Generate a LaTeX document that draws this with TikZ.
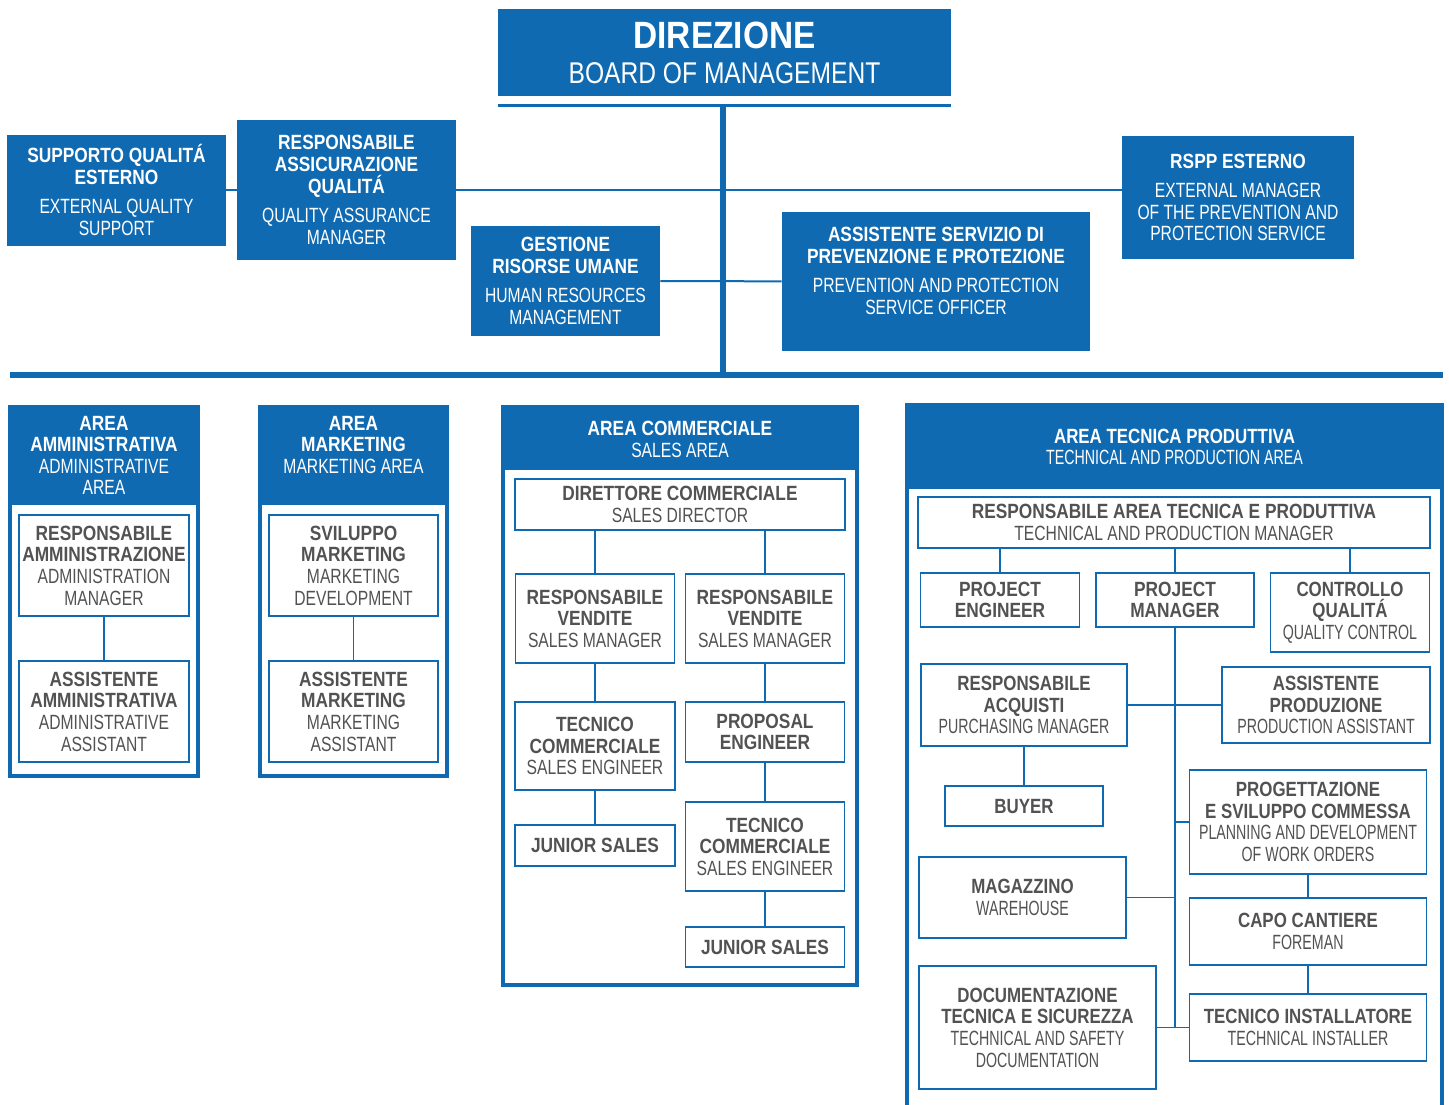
\documentclass[tikz,border=0pt]{standalone}
\usepackage{fontspec}
\setmainfont{Liberation Sans}[UprightFeatures={FakeStretch=0.76},BoldFeatures={FakeStretch=0.84}]
\newfontfamily\titlefont{Liberation Sans}[UprightFeatures={FakeStretch=0.82},BoldFeatures={FakeStretch=0.88}]
\newfontfamily\narrowfont{Liberation Sans}[UprightFeatures={FakeStretch=0.69},BoldFeatures={FakeStretch=0.82}]
\definecolor{orgblue}{RGB}{16,106,178}
\definecolor{orggray}{RGB}{82,82,82}
\tikzset{
  dims/.style 2 args={minimum width=#1*0.5pt, minimum height=#2*0.5pt},
  bluebox/.style={fill=orgblue, text=white, align=center, inner sep=1pt,
    font=\fontsize{10.3}{10.8}\selectfont},
  whitebox/.style={draw=orgblue, line width=0.75pt, fill=white, text=orggray,
    align=center, inner sep=1pt, font=\fontsize{10.3}{10.8}\selectfont},
  tecbox/.style={whitebox, font=\narrowfont\fontsize{10.3}{10.8}\selectfont},
  areaframe/.style={draw=orgblue, line width=2pt},
  trunk/.style={draw=orgblue, line width=3pt},
  link/.style={draw=orgblue, line width=1pt},
  sublink/.style={draw=orgblue, line width=0.75pt}
}

\begin{document}
\begin{tikzpicture}[x=0.5pt,y=-0.5pt]
  \useasboundingbox (0,0) rectangle (1449,1104);

  % board and staff
  \node[bluebox, dims={453}{87}, font=\titlefont\fontsize{15}{17.5}\selectfont] (dir) at (724.5,52.5)
    {{\fontsize{19}{17.5}\selectfont\bfseries DIREZIONE}\\BOARD OF MANAGEMENT};
  \coordinate (spinetop) at (723,105);
  \coordinate (spinebot) at (723,375);
  \coordinate (barleft) at (10,375);
  \coordinate (barright) at (1443,375);
  \draw[orgblue, line width=1.5pt] (dir.south west |- spinetop) -- (dir.south east |- spinetop);
  \draw[trunk] (spinetop) -- (spinebot);
  \draw[trunk] (barleft) -- (barright);

  \node[bluebox, dims={219}{111}] (supp) at (116.5,190)
    {\textbf{SUPPORTO QUALITÁ}\\\textbf{ESTERNO}\\[4pt]EXTERNAL QUALITY\\SUPPORT};
  \node[bluebox, dims={219}{140}] (rassic) at (346.5,190)
    {\textbf{RESPONSABILE}\\\textbf{ASSICURAZIONE}\\\textbf{QUALITÁ}\\[4pt]QUALITY ASSURANCE\\MANAGER};
  \node[bluebox, dims={189}{110}] (gest) at (565.5,281)
    {\textbf{GESTIONE}\\\textbf{RISORSE UMANE}\\[4pt]HUMAN RESOURCES\\MANAGEMENT};
  \node[bluebox, dims={308}{139}] (aspp) at (936,281.5)
    {\textbf{ASSISTENTE SERVIZIO DI}\\\textbf{PREVENZIONE E PROTEZIONE}\\[4pt]PREVENTION AND PROTECTION\\SERVICE OFFICER\\\mbox{}};
  \node[bluebox, dims={232}{123}] (rspp) at (1238,197.5)
    {\textbf{RSPP ESTERNO}\\[4pt]EXTERNAL MANAGER\\OF THE PREVENTION AND\\PROTECTION SERVICE};

  \draw[link] (supp) -- (rassic);
  \draw[link] (rassic.east) -- (rassic.east -| rspp.west);
  \draw[link] (gest) -- (aspp);

  % area amministrativa
  \draw[areaframe] (10,407) rectangle (198,776);
  \node[bluebox, dims={190}{99}] (ammhead) at (104,455.5)
    {\textbf{AREA}\\\textbf{AMMINISTRATIVA}\\ADMINISTRATIVE\\AREA};
  \node[whitebox, dims={170}{101}] (ramm) at (104,565.5)
    {\textbf{RESPONSABILE}\\\textbf{AMMINISTRAZIONE}\\ADMINISTRATION\\MANAGER};
  \node[whitebox, dims={170}{101}] (aamm) at (104,711.5)
    {\textbf{ASSISTENTE}\\\textbf{AMMINISTRATIVA}\\ADMINISTRATIVE\\ASSISTANT};
  \draw[sublink] (ramm) -- (aamm);

  % area marketing
  \draw[areaframe] (260,407) rectangle (447,776);
  \node[bluebox, dims={189}{99}] (mkthead) at (353.5,455.5)
    {\textbf{AREA}\\\textbf{MARKETING}\\MARKETING AREA\\\mbox{}};
  \node[whitebox, dims={169}{101}] (smkt) at (353.5,565.5)
    {\textbf{SVILUPPO}\\\textbf{MARKETING}\\MARKETING\\DEVELOPMENT};
  \node[whitebox, dims={169}{101}] (amkt) at (353.5,711.5)
    {\textbf{ASSISTENTE}\\\textbf{MARKETING}\\MARKETING\\ASSISTANT};
  \draw[sublink] (smkt) -- (amkt);

  % area commerciale
  \draw[areaframe] (503,407) rectangle (857,985);
  \node[bluebox, dims={356}{61}] (comhead) at (680,439.5)
    {\textbf{AREA COMMERCIALE}\\SALES AREA};
  \node[whitebox, dims={330}{51}] (dcom) at (680,504.5)
    {\textbf{DIRETTORE COMMERCIALE}\\SALES DIRECTOR};
  \node[whitebox, dims={159}{89}] (rv1) at (595,618.5)
    {\textbf{RESPONSABILE}\\\textbf{VENDITE}\\SALES MANAGER};
  \node[whitebox, dims={159}{89}] (rv2) at (765,618.5)
    {\textbf{RESPONSABILE}\\\textbf{VENDITE}\\SALES MANAGER};
  \node[whitebox, dims={160}{88}] (tc1) at (595,746)
    {\textbf{TECNICO}\\\textbf{COMMERCIALE}\\SALES ENGINEER};
  \node[whitebox, dims={159}{60}] (prop) at (765,732)
    {\textbf{PROPOSAL}\\\textbf{ENGINEER}};
  \node[whitebox, dims={160}{41}] (js1) at (595,845.5)
    {\textbf{JUNIOR SALES}};
  \node[whitebox, dims={159}{89}] (tc2) at (765,846.5)
    {\textbf{TECNICO}\\\textbf{COMMERCIALE}\\SALES ENGINEER};
  \node[whitebox, dims={159}{40}] (js2) at (765,947)
    {\textbf{JUNIOR SALES}};

  \draw[sublink] (rv1.north) -- (rv1.north |- dcom.south);
  \draw[sublink] (rv2.north) -- (rv2.north |- dcom.south);
  \draw[sublink] (rv1) -- (tc1);
  \draw[sublink] (tc1) -- (js1);
  \draw[sublink] (rv2) -- (prop);
  \draw[sublink] (prop) -- (tc2);
  \draw[sublink] (tc2) -- (js2);

  % area tecnica produttiva
  \draw[areaframe] (907,405) rectangle (1442,1120);
  \node[bluebox, dims={537}{84}, font=\narrowfont\fontsize{10.3}{10.8}\selectfont] (techead) at (1174.5,447)
    {\textbf{AREA TECNICA PRODUTTIVA}\\TECHNICAL AND PRODUCTION AREA};
  \node[whitebox, dims={512}{51}] (rtec) at (1174,522.5)
    {\textbf{RESPONSABILE AREA TECNICA E PRODUTTIVA}\\TECHNICAL AND PRODUCTION MANAGER};
  \node[whitebox, dims={159}{54}] (pe) at (1000,600)
    {\textbf{PROJECT}\\\textbf{ENGINEER}};
  \node[whitebox, dims={158}{54}] (pm) at (1175,600)
    {\textbf{PROJECT}\\\textbf{MANAGER}};
  \node[tecbox, dims={159}{79}] (cq) at (1350,612.5)
    {\textbf{CONTROLLO}\\\textbf{QUALITÁ}\\QUALITY CONTROL};
  \node[tecbox, dims={206}{82}] (racq) at (1024,705)
    {\textbf{RESPONSABILE}\\\textbf{ACQUISTI}\\PURCHASING MANAGER};
  \node[tecbox, dims={208}{76}] (aprod) at (1326,705)
    {\textbf{ASSISTENTE}\\\textbf{PRODUZIONE}\\PRODUCTION ASSISTANT};
  \node[tecbox, dims={158}{40}] (buyer) at (1024,806)
    {\textbf{BUYER}};
  \node[tecbox, dims={237}{104}] (prog) at (1308,822)
    {\textbf{PROGETTAZIONE}\\\textbf{E SVILUPPO COMMESSA}\\PLANNING AND DEVELOPMENT\\OF WORK ORDERS};
  \node[tecbox, dims={207}{81}] (mag) at (1022.5,897.5)
    {\textbf{MAGAZZINO}\\WAREHOUSE};
  \node[tecbox, dims={237}{67}] (capo) at (1308,931.5)
    {\textbf{CAPO CANTIERE}\\FOREMAN};
  \node[tecbox, dims={237}{123}] (doc) at (1037.5,1027.5)
    {\textbf{DOCUMENTAZIONE}\\\textbf{TECNICA E SICUREZZA}\\TECHNICAL AND SAFETY\\DOCUMENTATION};
  \node[tecbox, dims={237}{67}] (tinst) at (1308,1027.5)
    {\textbf{TECNICO INSTALLATORE}\\TECHNICAL INSTALLER};

  \draw[sublink] (pe.north) -- (pe.north |- rtec.south);
  \draw[sublink] (pm.north) -- (pm.north |- rtec.south);
  \draw[sublink] (cq.north) -- (cq.north |- rtec.south);
  \draw[sublink] (pm.south) -- (pm.south |- doc.east);
  \draw[sublink] (racq) -- (aprod);
  \draw[sublink] (buyer) -- (racq);
  \draw[sublink] (prog.west) -- (prog.west -| pm.south);
  \draw[sublink] (mag.east) -- (mag.east -| pm.south);
  \draw[sublink] (doc) -- (tinst);
  \draw[sublink] (prog) -- (capo);
  \draw[sublink] (capo) -- (tinst);
\end{tikzpicture}
\end{document}
